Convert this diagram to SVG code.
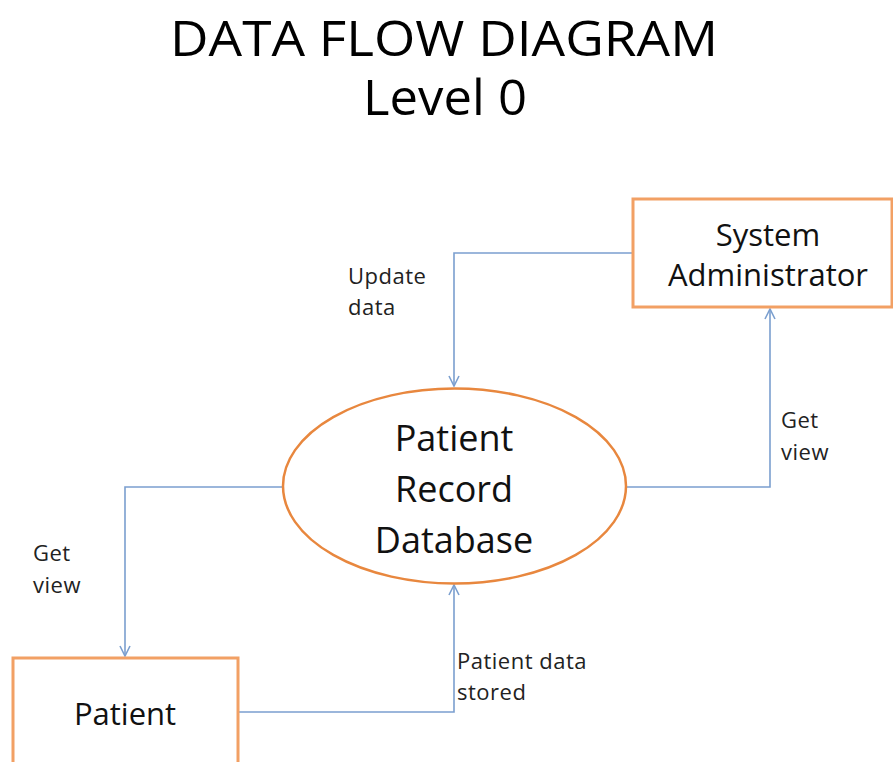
<svg xmlns="http://www.w3.org/2000/svg" width="893" height="762" viewBox="0 0 893 762">
  <style>
    .title { font-family: "Open Sans", "Liberation Sans", sans-serif; font-size: 50px; fill: #000; text-anchor: middle; }
    .node-box { fill: #fff; stroke: #F2A064; stroke-width: 3; }
    .node-oval { fill: #fff; stroke: #E8873E; stroke-width: 2.5; }
    .node-text { font-family: "Open Sans", "Liberation Sans", sans-serif; fill: #111; text-anchor: middle; }
    .flow { fill: none; stroke: #7B9FCF; stroke-width: 1.6; marker-end: url(#arrow); }
    .flow-label { font-family: "Open Sans", "Liberation Sans", sans-serif; font-size: 22px; fill: #222; letter-spacing: 0.5px; }
  </style>
  <defs>
    <marker id="arrow" viewBox="0 0 12 12" refX="11" refY="6" markerWidth="12" markerHeight="12" markerUnits="userSpaceOnUse" orient="auto">
      <path d="M1,1 L11,6 L1,11" fill="none" stroke="#7B9FCF" stroke-width="1.6"/>
    </marker>
  </defs>
  <rect width="893" height="762" fill="#fff"/>

  <text class="title" x="444" y="56" textLength="548" lengthAdjust="spacingAndGlyphs">DATA FLOW DIAGRAM</text>
  <text class="title" x="445" y="115" textLength="164" lengthAdjust="spacingAndGlyphs">Level 0</text>

  <g id="connectors">
    <path class="flow" d="M633,253 H454 V386"/>
    <path class="flow" d="M626,487 H770 V309"/>
    <path class="flow" d="M283,487 H125 V656"/>
    <path class="flow" d="M238,712 H454 V585"/>
    <text class="flow-label" x="348" y="284">Update</text>
    <text class="flow-label" x="348" y="315">data</text>
    <text class="flow-label" x="781" y="428">Get</text>
    <text class="flow-label" x="781" y="460">view</text>
    <text class="flow-label" x="33" y="561">Get</text>
    <text class="flow-label" x="33" y="593">view</text>
    <text class="flow-label" x="457" y="669">Patient data</text>
    <text class="flow-label" x="457" y="700">stored</text>
  </g>

  <g id="system-administrator">
    <rect class="node-box" x="633" y="199" width="259" height="108"/>
    <text class="node-text" x="768" y="246" font-size="31">System</text>
    <text class="node-text" x="768" y="286" font-size="31">Administrator</text>
  </g>

  <g id="patient-record-database">
    <ellipse class="node-oval" cx="454.5" cy="486" rx="171.5" ry="97.5"/>
    <text class="node-text" x="454" y="451" font-size="36">Patient</text>
    <text class="node-text" x="454" y="502" font-size="36">Record</text>
    <text class="node-text" x="454" y="553" font-size="36">Database</text>
  </g>

  <g id="patient">
    <rect class="node-box" x="13" y="658" width="225" height="110"/>
    <text class="node-text" x="125" y="725" font-size="31">Patient</text>
  </g>
</svg>
